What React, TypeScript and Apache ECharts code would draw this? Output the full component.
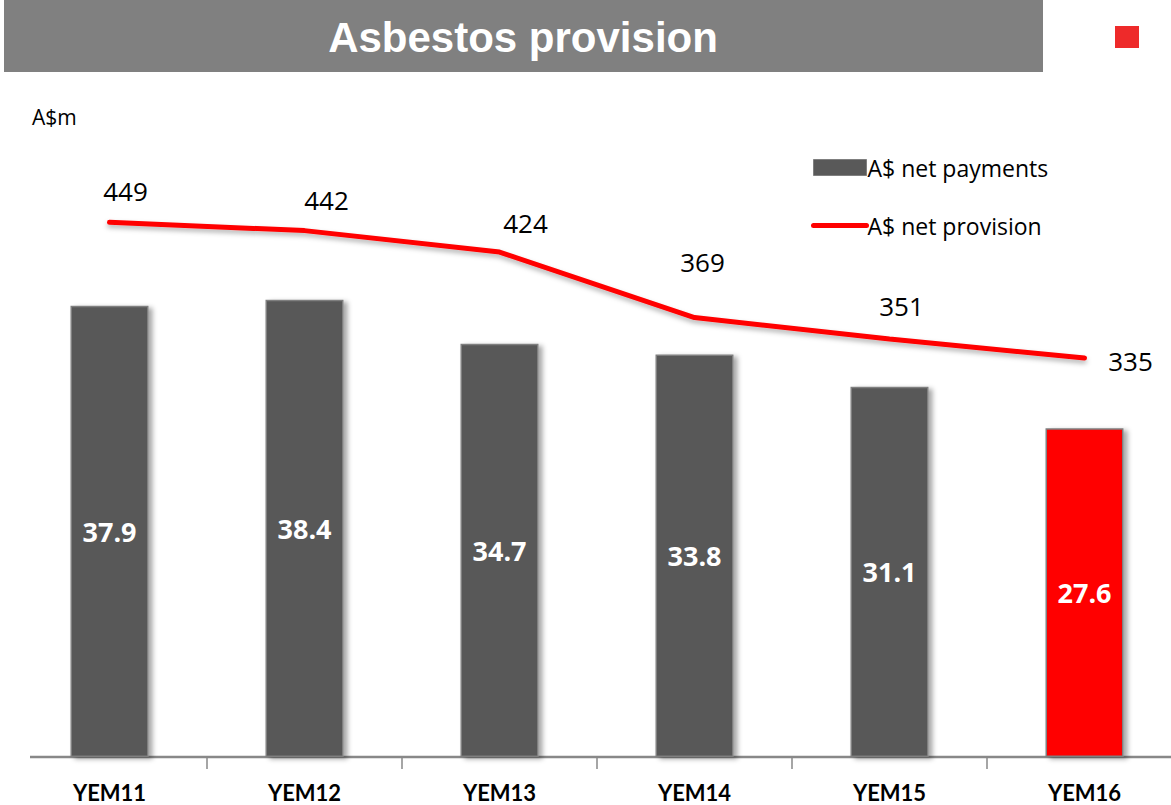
import React, { useEffect, useRef } from "react";
import * as echarts from "echarts";

const categories = ["YEM11", "YEM12", "YEM13", "YEM14", "YEM15", "YEM16"];
const netPayments = [37.9, 38.4, 34.7, 33.8, 31.1, 27.6];
const netProvision = [449, 442, 424, 369, 351, 335];
const highlightIndex = 5;
const provisionLabelOffsets: [number, number][] = [
  [16, -4],
  [22, -3],
  [26, -2],
  [8, -28],
  [12, -5],
  [46, 30],
];

export default function App() {
  const ref = useRef<HTMLDivElement>(null);
  useEffect(() => {
    document.body.style.margin = "0";
    document.body.style.overflow = "hidden";
    const chart = echarts.init(ref.current!, undefined, { renderer: "svg" });
    const barData = netPayments.map((v, i) => ({
      value: v,
      itemStyle:
        i === highlightIndex
          ? { color: "#ff0000" }
          : { color: "#595959" },
    }));
    const lineData = netProvision.map((v, i) => ({
      value: v,
      label: { offset: provisionLabelOffsets[i] },
    }));
    chart.setOption({
      animation: false,
      backgroundColor: "#ffffff",
      textStyle: { fontFamily: "'Open Sans', sans-serif" },
      graphic: [
        {
          type: "rect",
          shape: { x: 4, y: 0, width: 1039, height: 72 },
          style: { fill: "#808080" },
        },
        {
          type: "text",
          x: 523,
          y: 37,
          style: {
            text: "Asbestos provision",
            fill: "#ffffff",
            font: "bold 42px 'Liberation Sans', Arial, sans-serif",
            align: "center",
            verticalAlign: "middle",
          },
        },
        {
          type: "rect",
          shape: { x: 1115, y: 26, width: 24, height: 22 },
          style: { fill: "#ee2a2a" },
        },
        {
          type: "text",
          x: 32,
          y: 117,
          style: {
            text: "A$m",
            fill: "#000000",
            font: "21px 'Open Sans', sans-serif",
            verticalAlign: "middle",
          },
        },
        {
          type: "line",
          shape: { x1: 30, y1: 757, x2: 1190, y2: 757 },
          style: { stroke: "#888888", lineWidth: 2.5 },
          z: 1,
        },
      ],
      legend: {
        orient: "vertical",
        left: 806,
        top: 151,
        itemWidth: 53,
        itemHeight: 16,
        itemGap: 35,
        textStyle: {
          fontFamily: "'Open Sans', sans-serif",
          fontSize: 23,
          color: "#000000",
          padding: [0, 0, 0, -4],
        },
        data: [
          {
            name: "A$ net payments",
            icon: "rect",
            itemStyle: { color: "#595959", borderColor: "#7f7f7f", borderWidth: 1 },
          },
          {
            name: "A$ net provision",
            itemStyle: { opacity: 0 },
            lineStyle: { color: "#ff0000", width: 5, cap: "round" },
          },
        ],
      },
      grid: { left: 12, right: 8, top: 102, bottom: 48, containLabel: false },
      xAxis: {
        type: "category",
        data: categories,
        boundaryGap: true,
        axisLine: { show: false },
        axisTick: {
          show: true,
          length: 12,
          lineStyle: { color: "#888888", width: 1.5 },
          interval: (i: number) => i > 0 && i < categories.length,
        },
        axisLabel: {
          fontFamily: "Lato, sans-serif",
          fontWeight: "bold",
          fontSize: 22,
          color: "#000000",
          margin: 24,
        },
      },
      yAxis: [
        { type: "value", min: 0, max: 55, show: false, splitLine: { show: false } },
        { type: "value", min: 0, max: 550, show: false, splitLine: { show: false } },
      ],
      series: [
        {
          name: "A$ net payments",
          type: "bar",
          yAxisIndex: 0,
          barWidth: "40%",
          data: barData,
          z: 2,
          itemStyle: {
            color: "#595959",
            borderColor: "#7f7f7f",
            borderWidth: 1.5,
            shadowColor: "rgba(0,0,0,0.35)",
            shadowBlur: 5,
            shadowOffsetX: 4,
            shadowOffsetY: 2,
          },
          label: {
            show: true,
            position: "inside",
            color: "#ffffff",
            fontFamily: "'Open Sans', sans-serif",
            fontWeight: "bold",
            fontSize: 27,
            formatter: (p: any) => p.value.toFixed(1),
          },
        },
        {
          name: "A$ net provision",
          type: "line",
          yAxisIndex: 1,
          data: lineData,
          symbol: "circle",
          symbolSize: 1,
          showSymbol: true,
          z: 3,
          lineStyle: {
            color: "#ff0000",
            width: 5,
            cap: "round",
            shadowColor: "rgba(0,0,0,0.3)",
            shadowBlur: 5,
            shadowOffsetY: 3,
          },
          itemStyle: { color: "#ff0000" },
          label: {
            show: true,
            position: "top",
            distance: 14,
            color: "#000000",
            fontFamily: "'Open Sans', sans-serif",
            fontSize: 26,
          },
        },
      ],
    });
    return () => chart.dispose();
  }, []);
  return (
    <div
      ref={ref}
      style={{ position: "absolute", left: 0, top: 0, width: 1190, height: 805 }}
    />
  );
}
